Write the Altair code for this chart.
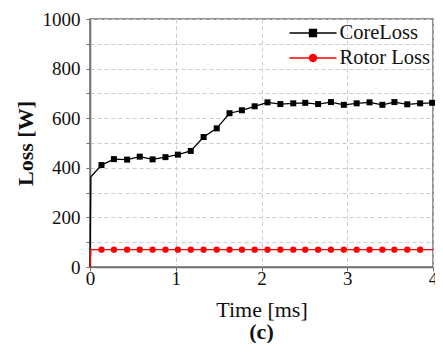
import altair as alt
import pandas as pd

series_names = ["CoreLoss", "Rotor Loss"]
series_colors = ["#000000", "#ff0000"]

# lead-in segments (no markers)
core_start_t = [0.0, 0.01]
core_start_loss = [0, 364]
rotor_start_t = [0.0, 0.01]
rotor_start_loss = [0, 70]

# marked points
core_t = [0.134, 0.279, 0.433, 0.58, 0.73, 0.88, 1.025, 1.175, 1.325, 1.478,
          1.627, 1.772, 1.92, 2.07, 2.22, 2.37, 2.51, 2.66, 2.81, 2.96,
          3.11, 3.26, 3.41, 3.55, 3.70, 3.85, 3.99]
core_loss = [411, 435, 433, 445, 434, 443, 453, 468, 524, 559,
             620, 632, 648, 664, 657, 660, 662, 657, 665, 654,
             660, 664, 654, 665, 656, 660, 662]
rotor_t = [0.134, 0.279, 0.433, 0.58, 0.73, 0.88, 1.025, 1.175, 1.325, 1.478,
           1.627, 1.772, 1.92, 2.07, 2.22, 2.37, 2.51, 2.66, 2.81, 2.96,
           3.11, 3.26, 3.41, 3.55, 3.70, 3.85]
rotor_loss = [70, 70, 70, 70, 70, 70, 70, 70, 70, 70,
              70, 70, 70, 70, 70, 70, 70, 70, 70, 70,
              70, 70, 70, 70, 70, 70]
rotor_end_t = [4.0]
rotor_end_loss = [70]

x_grid = [0, 0.5, 1, 1.5, 2, 2.5, 3, 3.5, 4]
y_grid = [0, 100, 200, 300, 400, 500, 600, 700, 800, 900, 1000]

rows = []
for t, v in zip(core_start_t, core_start_loss):
    rows.append({"t": t, "loss": v, "series": "CoreLoss", "marker": False})
for t, v in zip(core_t, core_loss):
    rows.append({"t": t, "loss": v, "series": "CoreLoss", "marker": True})
for t, v in zip(rotor_start_t, rotor_start_loss):
    rows.append({"t": t, "loss": v, "series": "Rotor Loss", "marker": False})
for t, v in zip(rotor_t, rotor_loss):
    rows.append({"t": t, "loss": v, "series": "Rotor Loss", "marker": True})
for t, v in zip(rotor_end_t, rotor_end_loss):
    rows.append({"t": t, "loss": v, "series": "Rotor Loss", "marker": False})
df = pd.DataFrame(rows)

FONT = "Liberation Serif"
GRID = "#cccccc"
FRAME = "#707070"

x_enc = alt.X("t:Q", scale=alt.Scale(domain=[0, 4], nice=False),
              axis=alt.Axis(values=x_grid, title="Time [ms]", format="d",
                            labelExpr="datum.value % 1 == 0 ? datum.label : ''",
                            labelFlush=False, labelPadding=-2, titlePadding=11))
y_enc = alt.Y("loss:Q", scale=alt.Scale(domain=[0, 1000], nice=False),
              axis=alt.Axis(values=y_grid, title="Loss [W]", format="d",
                            labelExpr="datum.value % 200 == 0 ? datum.label : ''",
                            labelPadding=6, titlePadding=5, titleFontWeight="bold"))

core_line = alt.Chart(df).transform_filter("datum.series == 'CoreLoss'").mark_line(
    strokeWidth=1.3, color="#000000").encode(x=x_enc, y=y_enc)
rotor_line = alt.Chart(df).transform_filter("datum.series == 'Rotor Loss'").mark_line(
    strokeWidth=1.3, color="#ff0000").encode(x=x_enc, y=y_enc)

core_pts = alt.Chart(df).transform_filter(
    "datum.marker && datum.series == 'CoreLoss'"
).mark_point(shape="square", filled=True, size=36, opacity=1, color="#000000").encode(
    x=x_enc, y=y_enc)

rotor_pts = alt.Chart(df).transform_filter(
    "datum.marker && datum.series == 'Rotor Loss'"
).mark_point(shape="circle", filled=True, size=40, opacity=1, color="#ff0000").encode(
    x=x_enc, y=y_enc)

# legend glyphs: line segment with centred marker (units of half symbol width)
sq_path = "M-2.35,0L2.35,0M-0.35,-0.35L0.35,-0.35L0.35,0.35L-0.35,0.35Z"
ci_path = "M-2.35,0L2.35,0M-0.35,0A0.35,0.35,0,1,1,0.35,0A0.35,0.35,0,1,1,-0.35,0Z"

leg = alt.Legend(title=None, orient="none", legendX=212, legendY=3, symbolOpacity=1,
                 symbolStrokeWidth=1.3)
color_scale = alt.Scale(domain=series_names, range=series_colors)
legend_layer = alt.Chart(df).mark_point(filled=True, opacity=0).encode(
    x=x_enc, y=y_enc,
    color=alt.Color("series:N", scale=color_scale, legend=leg),
    stroke=alt.Stroke("series:N", scale=color_scale, legend=leg),
    shape=alt.Shape("series:N", scale=alt.Scale(domain=series_names, range=[sq_path, ci_path]), legend=leg),
)

chart = alt.layer(core_line, rotor_line, core_pts, rotor_pts, legend_layer).properties(
    width=343, height=248,
    autosize=alt.AutoSizeParams(type="none"),
    padding={"left": 82, "top": 11, "right": 2, "bottom": 76},
    title=alt.TitleParams("(c)", orient="bottom", font=FONT, fontSize=22,
                          fontWeight="bold", color="#111111", offset=2),
).configure_view(
    stroke=FRAME, strokeWidth=1.5
).configure_axis(
    grid=True, gridColor=GRID, gridDash=[4, 3], gridWidth=1,
    domainColor=FRAME, domainWidth=1.5,
    tickColor=FRAME, tickSize=4,
    labelFont=FONT, labelFontSize=19, labelColor="#111111",
    titleFont=FONT, titleFontSize=22, titleColor="#111111", titleFontWeight="normal",
).configure_legend(
    labelFont=FONT, labelFontSize=20.5, labelColor="#111111",
    symbolSize=400, labelOffset=15.5,
    rowPadding=3, padding=0,
)

chart.save("out.html", embed_options={"renderer": "svg", "actions": False})
